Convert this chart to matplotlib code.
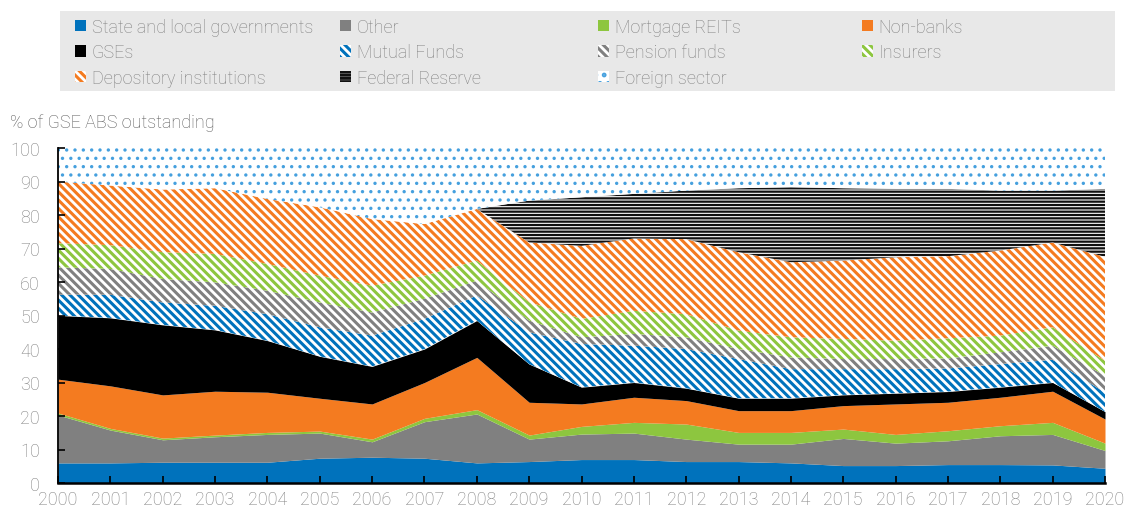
import numpy as np
import matplotlib.pyplot as plt
from matplotlib.patches import Rectangle

plt.rcParams['font.family'] = ['Roboto', 'DejaVu Sans']
plt.rcParams['font.weight'] = 'light'
plt.rcParams['hatch.linewidth'] = 2.2

# Holdings of GSE ABS by sector, % of outstanding
years = np.arange(2000, 2021)

state_local = [6.0, 6.0, 6.2, 6.2, 6.2, 7.4, 7.7, 7.4, 6.0, 6.4, 7.0,
               7.0, 6.4, 6.4, 6.0, 5.2, 5.2, 5.5, 5.5, 5.4, 4.4]
other = [14.3, 9.8, 6.7, 7.6, 8.3, 7.5, 4.6, 10.9, 14.6, 6.7, 7.6,
         7.9, 6.7, 5.2, 5.6, 8.1, 6.7, 7.1, 8.6, 9.1, 5.3]
mortgage_reits = [0.6, 0.5, 0.5, 0.5, 0.6, 0.6, 0.8, 1.0, 1.3, 1.2, 2.3,
                  3.2, 4.5, 3.5, 3.5, 2.8, 2.6, 3.0, 3.0, 3.6, 2.2]
non_banks = [10.1, 12.7, 12.9, 13.1, 12.0, 9.8, 10.5, 10.7, 15.6, 9.8, 6.7,
             7.5, 7.0, 6.5, 6.5, 7.0, 9.1, 8.5, 8.5, 9.3, 7.2]
gses = [19.0, 20.3, 20.9, 18.3, 15.4, 12.5, 11.2, 10.0, 11.0, 11.4, 5.0,
        4.4, 3.7, 3.7, 3.7, 3.2, 3.2, 3.2, 3.0, 2.6, 2.2]
mutual_funds = [6.2, 6.9, 6.7, 7.2, 7.9, 8.7, 9.2, 9.0, 7.5, 9.5, 12.9,
                11.0, 11.7, 11.7, 8.7, 7.7, 7.2, 6.9, 6.9, 6.8, 5.7]
pension_funds = [8.2, 7.7, 7.0, 7.0, 7.0, 7.4, 6.9, 6.0, 4.4, 3.5, 2.0,
                 3.5, 3.5, 3.0, 3.5, 3.0, 3.0, 3.0, 3.5, 4.2, 5.0]
insurers = [7.2, 7.1, 8.0, 8.5, 8.0, 8.0, 8.0, 6.9, 6.0, 5.5, 5.5,
            6.9, 6.9, 5.5, 6.0, 6.0, 5.5, 6.0, 5.0, 5.5, 4.5]
depository = [18.4, 17.8, 18.7, 19.6, 19.4, 20.4, 19.9, 15.4, 15.4, 17.8, 21.8,
              21.6, 22.4, 23.4, 22.4, 23.4, 24.9, 24.5, 25.4, 25.3, 31.0]
federal_reserve = [0, 0, 0, 0, 0, 0, 0, 0, 0, 12.5, 14.5,
                   13.3, 14.5, 19.1, 22.4, 21.6, 20.4, 20.1, 17.9, 15.5, 20.3]
foreign = [10.0, 11.2, 12.4, 12.0, 15.2, 17.7, 21.2, 22.7, 18.2, 15.7, 14.7,
           13.7, 12.7, 12.0, 11.7, 12.0, 12.2, 12.2, 12.7, 12.7, 12.2]

blue = '#0072BC'
grey = '#808080'
green = '#8DC63F'
orange = '#F47B20'
diag = chr(92) * 4

# label, values, facecolor, hatch colour, hatch, hatch linewidth
layers = [
    ('State and local governments', state_local, blue, None, None, None),
    ('Other', other, grey, None, None, None),
    ('Mortgage REITs', mortgage_reits, green, None, None, None),
    ('Non-banks', non_banks, orange, None, None, None),
    ('GSEs', gses, 'black', None, None, None),
    ('Mutual Funds', mutual_funds, 'white', blue, diag, 2.2),
    ('Pension funds', pension_funds, 'white', grey, diag, 2.2),
    ('Insurers', insurers, 'white', green, diag, 2.2),
    ('Depository institutions', depository, 'white', orange, diag, 2.2),
    ('Federal Reserve', federal_reserve, 'white', '#111111', '-----', 1.6),
    ('Foreign sector', foreign, 'white', '#45A0DE', '..', 1.2),
]

W, H = 1127, 510
fig = plt.figure(figsize=(W / 100, H / 100), dpi=100)
ax = fig.add_axes([58 / W, 1 - 484 / H, (1105 - 58) / W, (484 - 149) / H])

bottom = np.zeros(len(years))
handles = []
for label, vals, fc, hc, hatch, hlw in layers:
    top = bottom + np.array(vals)
    if hatch is None:
        coll = ax.fill_between(years, bottom, top, facecolor=fc,
                               edgecolor=fc, linewidth=0, label=label)
    else:
        with plt.rc_context({'hatch.linewidth': hlw}):
            coll = ax.fill_between(years, bottom, top, facecolor=fc,
                                   edgecolor=hc, hatch=hatch, linewidth=0,
                                   label=label)
        if hasattr(coll, 'set_hatch_linewidth'):
            coll.set_hatch_linewidth(hlw)
    handles.append(coll)
    bottom = top

ax.set_xlim(2000, 2020)
ax.set_ylim(0, 100)
ax.set_xticks(years)
ax.set_yticks(np.arange(0, 101, 10))
for s in ['top', 'right']:
    ax.spines[s].set_visible(False)
ax.spines['left'].set_linewidth(1.3)
ax.spines['bottom'].set_linewidth(1.8)
ax.tick_params(axis='both', direction='in', length=5, width=1.2,
               labelsize=13, labelcolor='#7f7f7f')
ax.tick_params(axis='y', pad=13)
ax.tick_params(axis='x', pad=5)

fig.text(10 / W, 1 - 123 / H, '% of GSE ABS outstanding', fontsize=13,
         color='#595959', va='center', ha='left')

# legend: grey band with four columns filled row by row
fig.patches.append(Rectangle((60 / W, 1 - 92 / H), (1115 - 60) / W, 80 / H,
                             transform=fig.transFigure, facecolor='#e8e8e8',
                             edgecolor='none', zorder=0))
col_x = [75, 340, 598, 862]
for c, x in enumerate(col_x):
    idx = list(range(c, len(layers), 4))
    fig.legend([handles[i] for i in idx], [layers[i][0] for i in idx],
               loc='upper left', bbox_to_anchor=(x / W, 1 - 19 / H),
               frameon=False, fontsize=13, labelcolor='#808080',
               handlelength=0.62, handleheight=0.62, handletextpad=0.3,
               labelspacing=0.41, borderpad=0, borderaxespad=0)

fig.savefig('out.png', dpi=100)
